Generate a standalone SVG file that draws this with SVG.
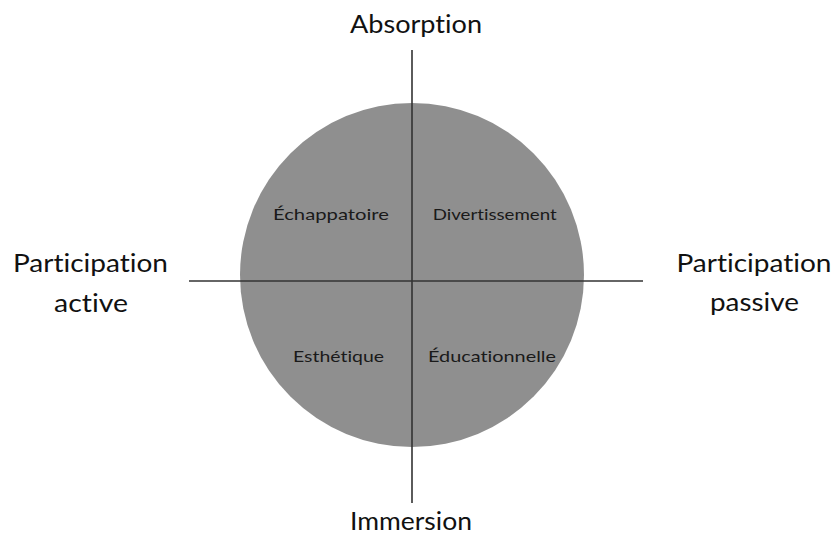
<svg xmlns="http://www.w3.org/2000/svg" width="838" height="534" viewBox="0 0 838 534">
<style>
.big{font-family:Lato,"Noto Sans","Liberation Sans",sans-serif;font-size:25px;fill:#111;text-anchor:middle;font-variant-ligatures:none}
.small{font-family:Lato,"Noto Sans","Liberation Sans",sans-serif;font-size:16px;fill:#1a1a1a;text-anchor:middle;font-variant-ligatures:none}
.axis{stroke:#333;stroke-width:1.6;fill:none}
</style>
<rect width="838" height="534" fill="#ffffff"/>
<g id="circle"><circle cx="412" cy="275" r="172" fill="#8f8f8f"/></g>
<g id="connectors">
<line class="axis" x1="412" y1="50" x2="412" y2="503"/>
<line class="axis" x1="189" y1="281" x2="643" y2="281"/>
</g>
<g id="absorption"><text class="big" x="416" y="33" textLength="132" lengthAdjust="spacingAndGlyphs">Absorption</text></g>
<g id="immersion"><text class="big" x="411" y="530" textLength="122" lengthAdjust="spacingAndGlyphs">Immersion</text></g>
<g id="participation-active">
<text class="big" x="90.5" y="272" textLength="155" lengthAdjust="spacingAndGlyphs">Participation</text>
<text class="big" x="91" y="312" textLength="74" lengthAdjust="spacingAndGlyphs">active</text>
</g>
<g id="participation-passive">
<text class="big" x="754" y="272" textLength="155" lengthAdjust="spacingAndGlyphs">Participation</text>
<text class="big" x="754.5" y="311" textLength="89" lengthAdjust="spacingAndGlyphs">passive</text>
</g>
<g id="echappatoire"><text class="small" x="331" y="220" textLength="116" lengthAdjust="spacingAndGlyphs">Échappatoire</text></g>
<g id="divertissement"><text class="small" x="494.7" y="220" textLength="124" lengthAdjust="spacingAndGlyphs">Divertissement</text></g>
<g id="esthetique"><text class="small" x="338.5" y="362" textLength="91" lengthAdjust="spacingAndGlyphs">Esthétique</text></g>
<g id="educationnelle"><text class="small" x="492" y="362" textLength="128" lengthAdjust="spacingAndGlyphs">Éducationnelle</text></g>
</svg>
